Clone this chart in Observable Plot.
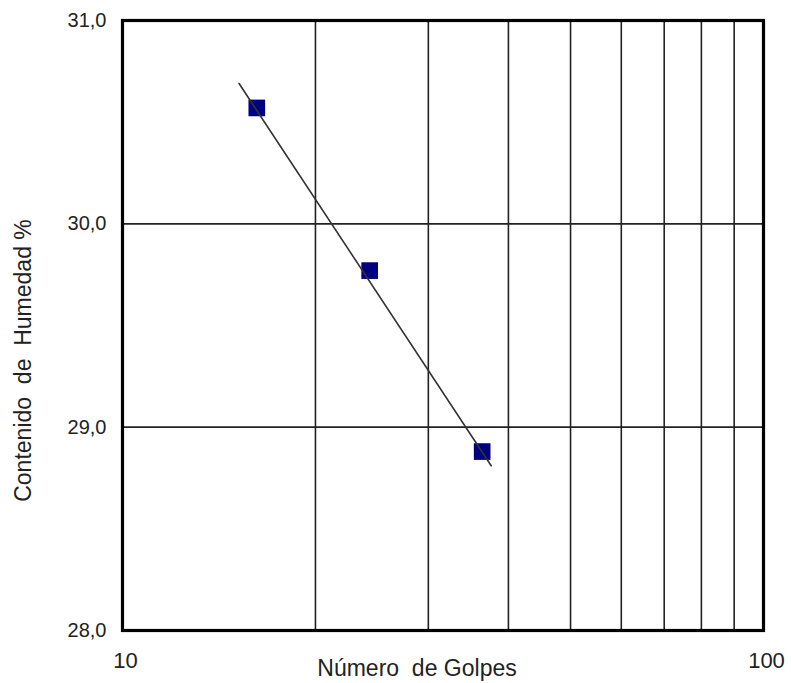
<!DOCTYPE html>
<html>
<head>
<meta charset="utf-8">
<script src="https://cdn.jsdelivr.net/npm/d3@7"></script>
<script src="https://cdn.jsdelivr.net/npm/@observablehq/plot@0.6"></script>
<style>
  html, body { margin: 0; padding: 0; background: #fff; }
  svg { font-family: "Liberation Sans", Arial, sans-serif; }
</style>
</head>
<body>
<div id="chart"></div>
<script>
// Data
const blows = [16.2, 24.3, 36.4];
const moisture = [30.57, 29.77, 28.88];
const trendBlows = [15.2, 37.6];
const trendMoisture = [30.69, 28.81];
const xTickValues = [10, 100];
const xGridValues = [20, 30, 40, 50, 60, 70, 80, 90];
const yTickValues = [28, 29, 30, 31];
const yTickLabels = ["28,0", "29,0", "30,0", "31,0"];
const yGridValues = [29, 30];
const xTitle = "Número\u00a0 de Golpes";
const yTitle = "Contenido\u00a0 de\u00a0 Humedad %";

const points = blows.map((b, i) => ({blows: b, moisture: moisture[i]}));
const trend = trendBlows.map((b, i) => ({blows: b, moisture: trendMoisture[i]}));

const chart = Plot.plot({
  width: 791,
  height: 683,
  marginLeft: 122,
  marginRight: 28,
  marginTop: 20,
  marginBottom: 53,
  style: {fontFamily: "'Liberation Sans', Arial, sans-serif", background: "#fff"},
  x: {type: "log", domain: [10, 100]},
  y: {domain: [28, 31]},
  marks: [
    Plot.ruleX(xGridValues, {stroke: "#222", strokeWidth: 1.6}),
    Plot.ruleY(yGridValues, {stroke: "#222", strokeWidth: 1.6}),
    Plot.frame({stroke: "#000", strokeWidth: 3.2}),
    Plot.dot(points, {x: "blows", y: "moisture", symbol: "square", r: 9.4, fill: "#000080", stroke: "none"}),
    Plot.line(trend, {x: "blows", y: "moisture", stroke: "#333", strokeWidth: 1.6}),
    Plot.axisX(xTickValues, {
      tickSize: 0, tickPadding: 22, fontSize: 22, fill: "#222", dx: 3,
      tickFormat: d => String(d), label: null
    }),
    Plot.axisY(yTickValues, {
      tickSize: 0, tickPadding: 16, fontSize: 20, fill: "#222",
      tickFormat: d => yTickLabels[yTickValues.indexOf(d)], label: null
    }),
    Plot.text([xTitle], {
      frameAnchor: "bottom", lineAnchor: "top", dy: 29, dx: -26,
      fontSize: 23, fill: "#222"
    }),
    Plot.text([yTitle], {
      frameAnchor: "left", textAnchor: "middle", rotate: -90, dx: -99, dy: 35,
      fontSize: 23, fill: "#222"
    })
  ]
});
document.getElementById("chart").append(chart);
</script>
</body>
</html>
